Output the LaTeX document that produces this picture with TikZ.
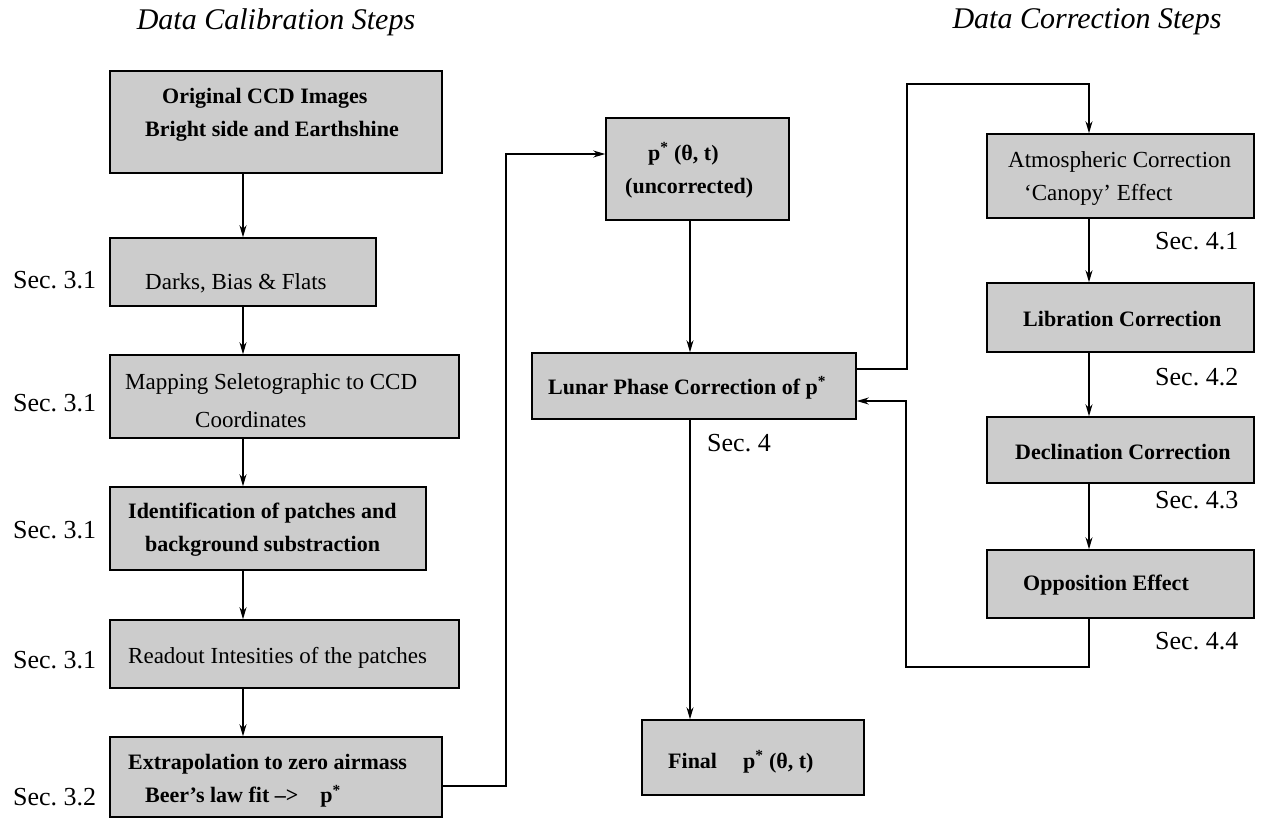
\documentclass[tikz,border=0pt]{standalone}
\usepackage{fontspec}
\setmainfont{Liberation Serif}
\usetikzlibrary{arrows.meta}
\definecolor{boxfill}{gray}{0.8}
\begin{document}
\begin{tikzpicture}[x=1pt,y=-1pt,
  box/.style={draw=black, line width=1.5pt, fill=boxfill, inner sep=0pt, rectangle},
  btxt/.style={anchor=west, align=left, inner sep=0pt, font=\fontsize{22}{33}\selectfont\bfseries},
  rtxt/.style={anchor=west, align=left, inner sep=0pt, font=\fontsize{23}{33}\selectfont},
  sec/.style={anchor=west, inner sep=0pt, font=\fontsize{26}{30}\selectfont},
  ttl/.style={inner sep=0pt, font=\fontsize{30}{34}\selectfont\itshape},
  arr/.style={line width=1.3pt, -{Stealth[length=12pt,width=7pt]}}]
\useasboundingbox (0,0) rectangle (1263,819);
\fill[white] (0,0) rectangle (1263,819);

% titles
\node[ttl] (title1) at (276,22) {Data Calibration Steps};
\node[ttl] (title2) at (1087,22) {Data Correction Steps};

% left column boxes
\node[box, minimum width=332, minimum height=102] (b1) at (276,122) {};
\node[box, minimum width=266, minimum height=68] (b2) at (243,272) {};
\node[box, minimum width=349, minimum height=83] (b3) at (284.5,396.5) {};
\node[box, minimum width=316, minimum height=83] (b4) at (268,528.5) {};
\node[box, minimum width=349, minimum height=68] (b5) at (284.5,654) {};
\node[box, minimum width=332, minimum height=80] (b6) at (276,777) {};

\node[btxt] (t1) at (145,115) {\hspace*{17pt}Original CCD Images\\Bright side and Earthshine};
\node[rtxt] (t2) at (145,283) {Darks, Bias \& Flats};
\node[rtxt] (t3) at (125,401) {Mapping Seletographic to CCD\\[5pt]\hspace*{70pt}Coordinates};
\node[btxt] (t4) at (128,530) {Identification of patches and\\\hspace*{17pt}background substraction};
\node[rtxt] (t5) at (128,658) {Readout Intesities of the patches};
\node[btxt] (t6) at (128,781) {Extrapolation to zero airmass\\\hspace*{17pt}Beer's law fit --{}>\quad p\textsuperscript{*}};

\node[sec] (s1) at (13,280) {Sec.\ 3.1};
\node[sec] (s2) at (13,403) {Sec.\ 3.1};
\node[sec] (s3) at (13,530) {Sec.\ 3.1};
\node[sec] (s4) at (13,660) {Sec.\ 3.1};
\node[sec] (s5) at (13,797) {Sec.\ 3.2};

% middle column
\node[box, minimum width=183, minimum height=102] (pu) at (697.5,169) {};
\node[box, minimum width=324, minimum height=66] (lu) at (694,386) {};
\node[box, minimum width=222, minimum height=75] (fi) at (753,757.5) {};

\node[btxt] (tpu) at (625,170) {\hspace*{23pt}p\textsuperscript{*} (θ, t)\\(uncorrected)};
\node[btxt] (tlu) at (548,388) {Lunar Phase Correction of p\textsuperscript{*}};
\node[btxt] (tfi) at (668,762) {Final\hspace{26pt}p\textsuperscript{*} (θ, t)};
\node[sec] (s6) at (707,443) {Sec.\ 4};

% right column
\node[box, minimum width=267, minimum height=84] (at) at (1120.5,176) {};
\node[box, minimum width=267, minimum height=69] (li) at (1120.5,317.5) {};
\node[box, minimum width=267, minimum height=66] (de) at (1120.5,450) {};
\node[box, minimum width=267, minimum height=68] (op) at (1120.5,584) {};

\node[rtxt] (tat) at (1008,178) {Atmospheric Correction\\\hspace*{16pt}`Canopy' Effect};
\node[btxt] (tli) at (1023,319) {Libration Correction};
\node[btxt] (tde) at (1015,452) {Declination Correction};
\node[btxt] (top) at (1023,585) {Opposition Effect};

\node[sec] (s7) at (1155,241) {Sec.\ 4.1};
\node[sec] (s8) at (1155,377) {Sec.\ 4.2};
\node[sec] (s9) at (1155,500) {Sec.\ 4.3};
\node[sec] (s10) at (1155,641) {Sec.\ 4.4};

% routing coordinates
\coordinate (xl) at (243,0);
\coordinate (xm) at (690,0);
\coordinate (xr) at (1089,0);
\coordinate (c1) at (506,786);
\coordinate (c2) at (506,154);
\coordinate (c3) at (907,369);
\coordinate (c4) at (907,84);
\coordinate (c5) at (1089,84);
\coordinate (c6) at (1089,667);
\coordinate (c7) at (906,667);
\coordinate (c8) at (906,401);

% left connectors
\draw[arr] (b1.south -| xl) -- (b2.north -| xl);
\draw[arr] (b2.south -| xl) -- (b3.north -| xl);
\draw[arr] (b3.south -| xl) -- (b4.north -| xl);
\draw[arr] (b4.south -| xl) -- (b5.north -| xl);
\draw[arr] (b5.south -| xl) -- (b6.north -| xl);
\draw[arr] (b6.east |- c1) -- (c1) -- (c2) -- (pu.west |- c2);

% middle connectors
\draw[arr] (pu.south -| xm) -- (lu.north -| xm);
\draw[arr] (lu.south -| xm) -- (fi.north -| xm);
\draw[arr] (lu.east |- c3) -- (c3) -- (c4) -- (c5) -- (at.north -| xr);

% right connectors
\draw[arr] (at.south -| xr) -- (li.north -| xr);
\draw[arr] (li.south -| xr) -- (de.north -| xr);
\draw[arr] (de.south -| xr) -- (op.north -| xr);
\draw[arr] (op.south -| xr) -- (c6) -- (c7) -- (c8) -- (lu.east |- c8);
\end{tikzpicture}
\end{document}
